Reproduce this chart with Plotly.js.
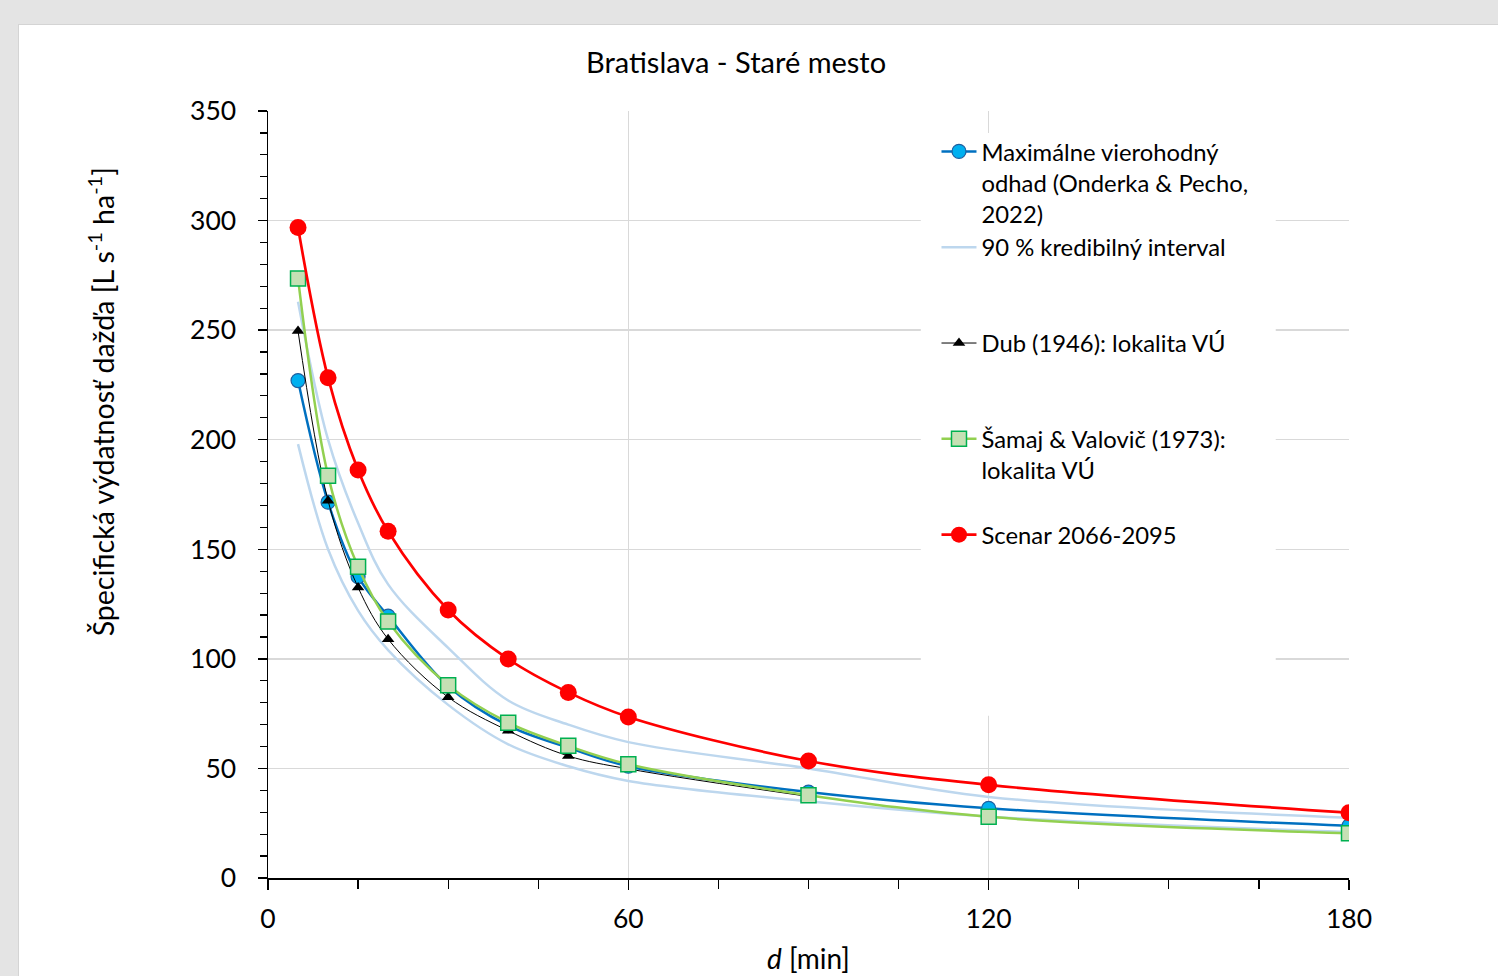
<!DOCTYPE html>
<html>
<head>
<meta charset="utf-8">
<script src="https://cdn.plot.ly/plotly-3.0.1.min.js"></script>
<style>
  html, body { margin: 0; padding: 0; background: #e4e4e4; width: 1498px; height: 976px; overflow: hidden; }
  #chart { position: absolute; left: 18px; top: 24px; width: 1480px; height: 952px; background: #fff; border-top: 1px solid #d4d4d4; border-left: 1px solid #d4d4d4; }
</style>
</head>
<body>
<div id="chart"></div>
<script>
// Duration d [min]
const durations = [5, 10, 15, 20, 30, 40, 50, 60, 90, 120, 180];
// Maximum likelihood estimate (Onderka & Pecho, 2022)
const mlEstimate = [227, 171.5, 137.5, 119.5, 87.5, 69.5, 59.5, 51, 39.2, 31.8, 23.8];
// 90 % credible interval
const ciUpper = [263, 200, 162, 134, 105, 81, 70, 62, 50, 37, 27.5];
const ciLower = [198, 150, 122, 104, 79, 61, 51, 44.3, 35, 28, 21];
// Dub (1946): lokalita VÚ
const dubDurations = [5, 10, 15, 20, 30, 40, 50, 60, 90];
const dubValues = [249.6, 172.2, 132.6, 109, 82.5, 67.2, 55.7, 49.8, 37.2];
// Šamaj & Valovič (1973): lokalita VÚ
const samajValues = [273.6, 183.6, 142, 117, 88, 70.9, 60.3, 51.9, 37.8, 27.9, 20.4];
// Scenar 2066-2095
const scenarValues = [296.8, 228.3, 186.2, 158.2, 122.3, 99.9, 84.7, 73.5, 53.4, 42.5, 29.8];

const NB = '\u00a0';
const names = {
  ml: 'Maximálne vierohodný<br>odhad (Onderka & Pecho,<br>2022)',
  ci: '90 % kredibilný interval<br>' + NB + '<br>' + NB,
  dub: 'Dub (1946): lokalita VÚ<br>' + NB + '<br>' + NB,
  samaj: 'Šamaj & Valovič (1973):<br>lokalita VÚ<br>' + NB,
  scen: 'Scenar 2066-2095'
};

const FONT = 'Lato, "Open Sans", "DejaVu Sans", sans-serif';

const traces = [
  { x: durations, y: ciUpper, name: names.ci, mode: 'lines', legendrank: 2,
    line: { color: '#bdd7ee', width: 2.5, shape: 'spline', smoothing: 1 } },
  { x: durations, y: ciLower, name: 'lower', mode: 'lines', showlegend: false,
    line: { color: '#bdd7ee', width: 2.5, shape: 'spline', smoothing: 1 } },
  { x: durations, y: mlEstimate, name: names.ml, mode: 'lines+markers', legendrank: 1,
    line: { color: '#0070c0', width: 2.5, shape: 'spline', smoothing: 1 },
    marker: { symbol: 'circle', size: 14, color: '#00b0f0', line: { color: '#1f5f9f', width: 1.2 } } },
  { x: dubDurations, y: dubValues, name: names.dub, mode: 'lines+markers', legendrank: 3,
    line: { color: '#000000', width: 1, shape: 'spline', smoothing: 1 },
    marker: { symbol: 'triangle-up', size: 11, color: '#000000' } },
  { x: durations, y: samajValues, name: names.samaj, mode: 'lines+markers', legendrank: 4,
    line: { color: '#92d050', width: 2.5, shape: 'spline', smoothing: 1 },
    marker: { symbol: 'square', size: 15, color: '#c5e0b4', line: { color: '#00b050', width: 1.5 } } },
  { x: durations, y: scenarValues, name: names.scen, mode: 'lines+markers', legendrank: 5,
    line: { color: '#ff0000', width: 2.7, shape: 'spline', smoothing: 1 },
    marker: { symbol: 'circle', size: 17, color: '#ff0000' } }
];

const layout = {
  width: 1480, height: 952,
  margin: { l: 249, r: 150, t: 86, b: 99 },
  paper_bgcolor: '#ffffff', plot_bgcolor: '#ffffff',
  font: { family: FONT, size: 24, color: '#000000' },
  showlegend: true,
  title: { text: 'Bratislava - Staré mesto', font: { family: FONT, size: 29, color: '#000' },
    xref: 'paper', x: 0.433, xanchor: 'center', yref: 'container', y: 0.96, yanchor: 'middle' },
  xaxis: {
    range: [0, 180], tickmode: 'array', tickvals: [0, 60, 120, 180], ticktext: ['0', '60', '120', '180'],
    showline: true, linecolor: '#000', linewidth: 1.5,
    ticks: 'outside', ticklen: 10, tickwidth: 1.3, tickcolor: '#000',
    ticklabelstandoff: 7,
    showgrid: true, gridcolor: '#d9d9d9', gridwidth: 1.5, zeroline: false,
    minor: { dtick: 15, ticks: 'outside', ticklen: 9, tickwidth: 1.2, tickcolor: '#000', showgrid: false },
    tickfont: { size: 26.5 }, fixedrange: true
  },
  yaxis: {
    range: [0, 350], dtick: 50,
    showline: true, linecolor: '#000', linewidth: 1.5,
    ticks: 'outside', ticklen: 9, tickwidth: 1.3, tickcolor: '#000',
    ticklabelstandoff: 16,
    showgrid: true, gridcolor: '#d9d9d9', gridwidth: 1.5, zeroline: false,
    minor: { dtick: 10, ticks: 'outside', ticklen: 7, tickwidth: 1.2, tickcolor: '#000', showgrid: false },
    tickfont: { size: 26.5 }, fixedrange: true
  },
  legend: {
    x: 0.6184, y: 0.976, xanchor: 'left', yanchor: 'top',
    bgcolor: 'rgba(255,255,255,0)', borderwidth: 0,
    font: { family: FONT, size: 23.8, color: '#000' },
    valign: 'top', traceorder: 'normal', itemwidth: 35, tracegroupgap: 0
  },
  shapes: [
    { type: 'rect', xref: 'x', yref: 'y', x0: 108.7, x1: 167.8, y0: 74, y1: 340,
      fillcolor: '#ffffff', line: { width: 0 }, layer: 'above' }
  ],
  annotations: [
    { text: 'Špecifická výdatnosť dažďa [L s<sup>-1</sup> ha<sup>-1</sup>]',
      xref: 'paper', yref: 'paper', x: -0.1545, y: 0.6214, xanchor: 'center', yanchor: 'middle',
      textangle: -90, showarrow: false, font: { family: FONT, size: 28.5, color: '#000' } },
    { text: '<i>d</i> [min]', xref: 'paper', yref: 'paper', x: 0.5, y: -0.104,
      xanchor: 'center', yanchor: 'middle', showarrow: false,
      font: { family: FONT, size: 28, color: '#000' } }
  ]
};

Plotly.newPlot('chart', traces, layout, { displayModeBar: false, staticPlot: true });
</script>
</body>
</html>
